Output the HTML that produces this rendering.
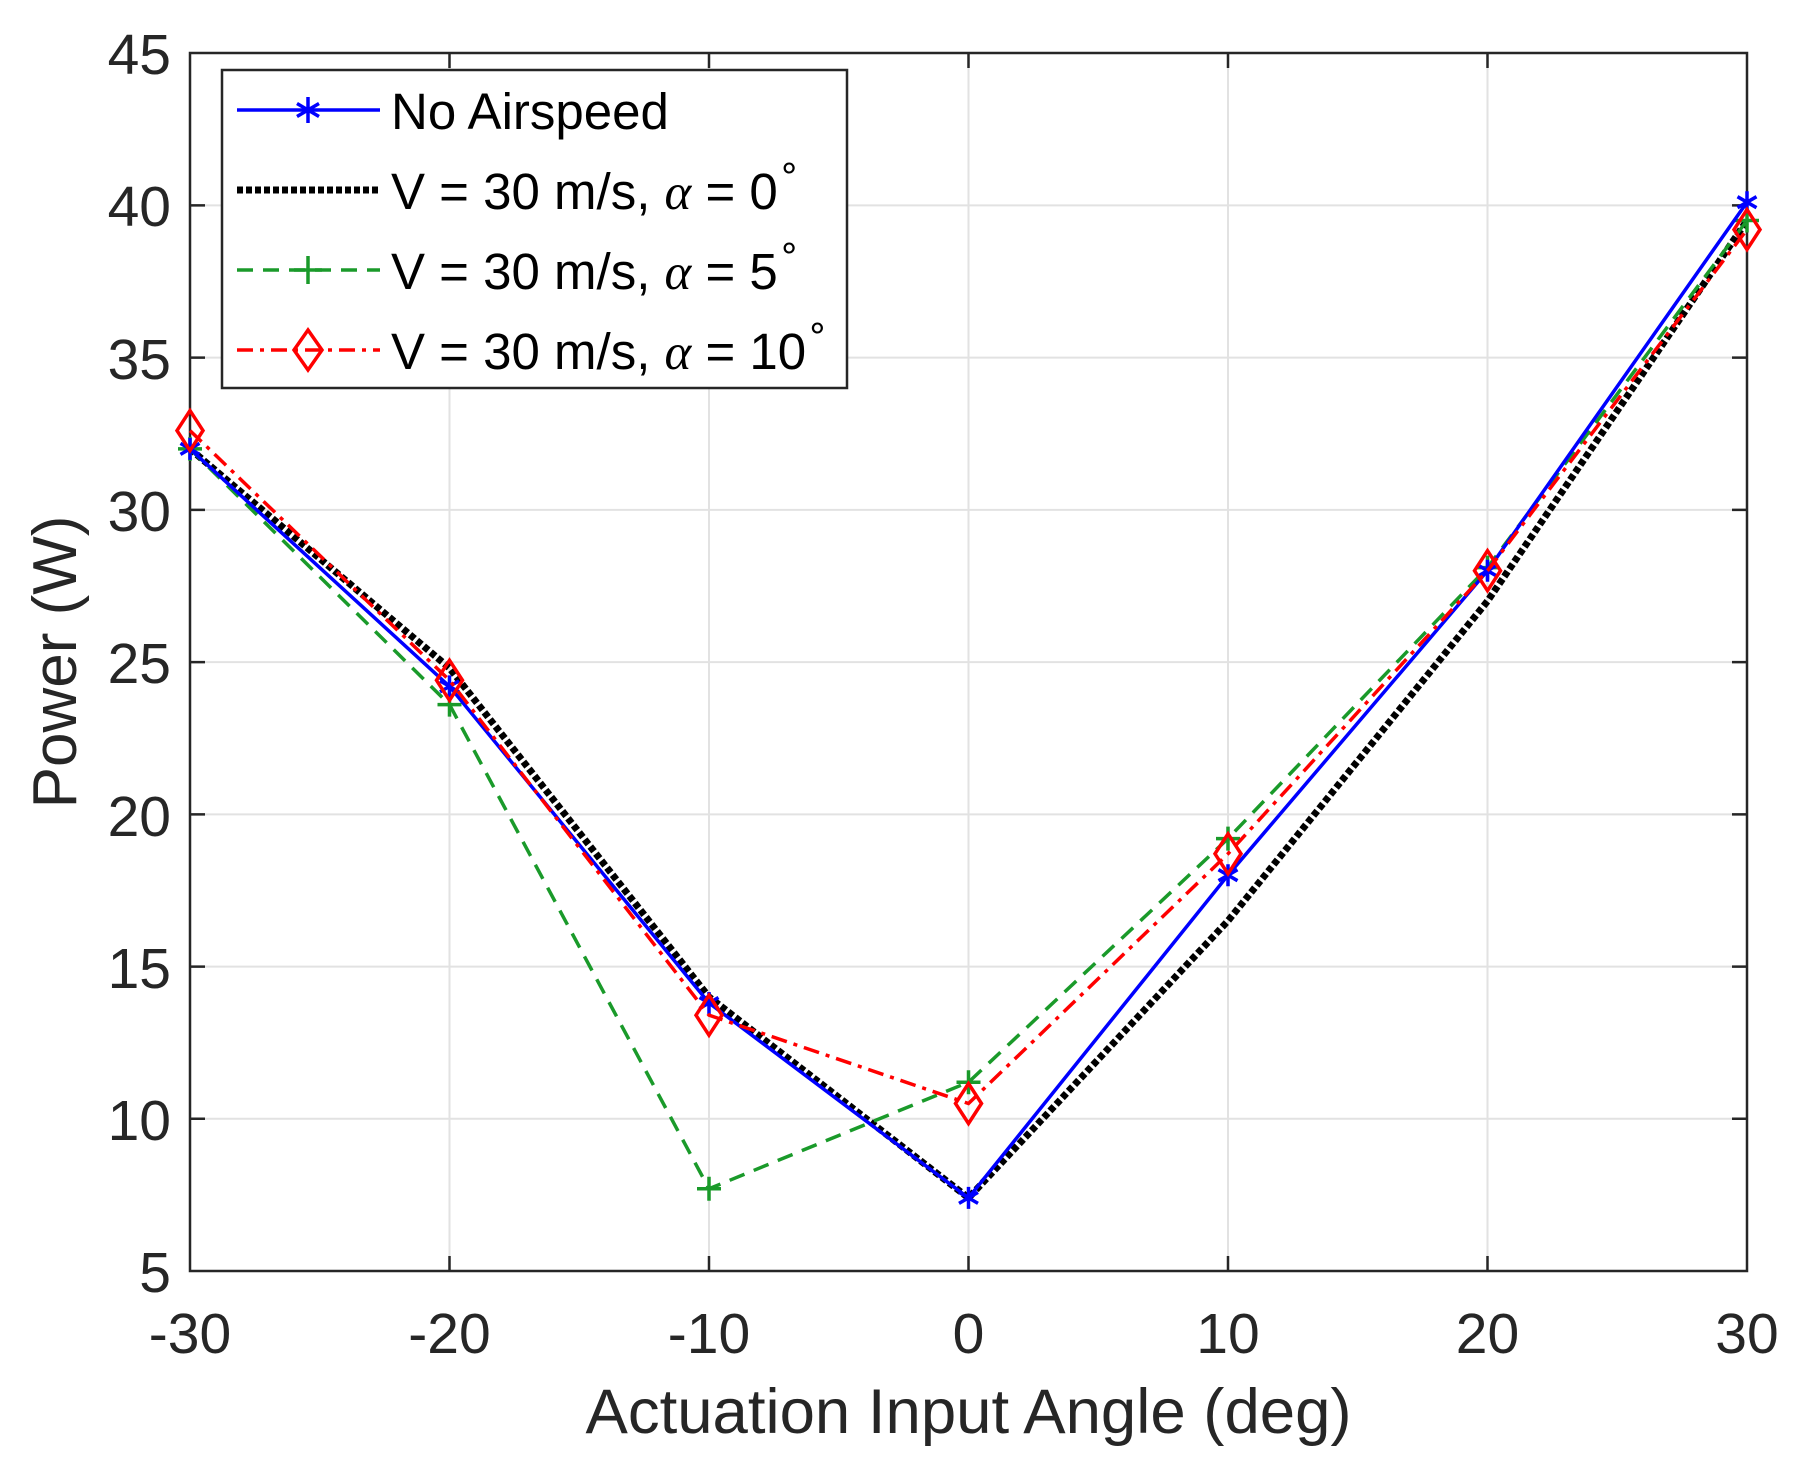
<!DOCTYPE html>
<html><head><meta charset="utf-8"><style>html,body{margin:0;padding:0;background:#fff}svg{display:block}</style></head>
<body>
<svg width="1801" height="1480" viewBox="0 0 1801 1480" xmlns="http://www.w3.org/2000/svg" font-family="Liberation Sans, sans-serif">
<rect width="1801" height="1480" fill="#fff"/>
<g stroke="#e2e2e2" stroke-width="2">
<line x1="449.5" y1="53" x2="449.5" y2="1271"/><line x1="709" y1="53" x2="709" y2="1271"/><line x1="968.5" y1="53" x2="968.5" y2="1271"/><line x1="1228" y1="53" x2="1228" y2="1271"/><line x1="1487.5" y1="53" x2="1487.5" y2="1271"/>
<line x1="190" y1="205.4" x2="1747" y2="205.4"/><line x1="190" y1="357.6" x2="1747" y2="357.6"/><line x1="190" y1="509.9" x2="1747" y2="509.9"/><line x1="190" y1="662.1" x2="1747" y2="662.1"/><line x1="190" y1="814.4" x2="1747" y2="814.4"/><line x1="190" y1="966.6" x2="1747" y2="966.6"/><line x1="190" y1="1118.8" x2="1747" y2="1118.8"/>
</g>
<g stroke="#262626" stroke-width="2.5">
<path d="M449.5 53v15M709 53v15M968.5 53v15M1228 53v15M1487.5 53v15M449.5 1271v-15M709 1271v-15M968.5 1271v-15M1228 1271v-15M1487.5 1271v-15"/>
<path d="M190 205.4h15M190 357.6h15M190 509.9h15M190 662.1h15M190 814.4h15M190 966.6h15M190 1118.8h15M1747 205.4h-15M1747 357.6h-15M1747 509.9h-15M1747 662.1h-15M1747 814.4h-15M1747 966.6h-15M1747 1118.8h-15"/>
</g>
<rect x="190" y="53" width="1557" height="1218" fill="none" stroke="#262626" stroke-width="2.5"/>
<g fill="#262626" font-size="57" text-anchor="end">
<text x="171" y="74">45</text><text x="171" y="226">40</text><text x="171" y="379">35</text><text x="171" y="531">30</text><text x="171" y="683">25</text><text x="171" y="836">20</text><text x="171" y="988">15</text><text x="171" y="1140">10</text><text x="171" y="1292">5</text>
</g>
<g fill="#262626" font-size="57" text-anchor="middle">
<text x="190" y="1353">-30</text><text x="449.5" y="1353">-20</text><text x="709" y="1353">-10</text><text x="968.5" y="1353">0</text><text x="1228" y="1353">10</text><text x="1487.5" y="1353">20</text><text x="1747" y="1353">30</text>
<text x="968.5" y="1433" font-size="63.5">Actuation Input Angle (deg)</text>
<text transform="translate(76,662) rotate(-90)" font-size="62">Power (W)</text>
</g>
<polyline points="190,448.9 449.5,668.1 709,997 968.5,1197.9 1228,920.8 1487.5,601.1 1747,220.5" fill="none" stroke="#000" stroke-width="7" stroke-dasharray="6,3"/>
<polyline points="190,448.9 449.5,704.6 709,1188.8 968.5,1082.2 1228,838.6 1487.5,567.6 1747,220.5" fill="none" stroke="#1a9a2a" stroke-width="3.5" stroke-dasharray="16,10"/>
<g stroke="#1a9a2a" stroke-width="3.5">
<path d="M178 448.9h24M190 436.9v24M437.5 704.6h24M449.5 692.6v24M697 1188.8h24M709 1176.8v24M956.5 1082.2h24M968.5 1070.2v24M1216 838.6h24M1228 826.6v24M1475.5 567.6h24M1487.5 555.6v24M1735 220.5h24M1747 208.5v24"/>
</g>
<polyline points="190,448.9 449.5,686.4 709,1003 968.5,1197.9 1228,875.2 1487.5,570.7 1747,202.2" fill="none" stroke="#0000ff" stroke-width="3.5"/>
<g stroke="#0000ff" stroke-width="3.5">
<path d="M190 437.9v22M180.5 443.4l19 11M180.5 454.4l19-11"/>
<path d="M449.5 675.4v22M440 680.9l19 11M440 691.9l19-11"/>
<path d="M709 992v22M699.5 997.5l19 11M699.5 1008.5l19-11"/>
<path d="M968.5 1186.9v22M959 1192.4l19 11M959 1203.4l19-11"/>
<path d="M1228 864.2v22M1218.5 869.7l19 11M1218.5 880.7l19-11"/>
<path d="M1487.5 559.7v22M1478 565.2l19 11M1478 576.2l19-11"/>
<path d="M1747 191.2v22M1737.5 196.7l19 11M1737.5 207.7l19-11"/>
</g>
<polyline points="190,430.6 449.5,680.3 709,1015.2 968.5,1103.5 1228,853.8 1487.5,570.7 1747,229.6" fill="none" stroke="#ff0000" stroke-width="3.5" stroke-dasharray="16,7,4,7"/>
<g fill="none" stroke="#ff0000" stroke-width="3.5">
<path d="M190 410.6l13 20l-13 20l-13-20z"/>
<path d="M449.5 660.3l13 20l-13 20l-13-20z"/>
<path d="M709 995.2l13 20l-13 20l-13-20z"/>
<path d="M968.5 1083.5l13 20l-13 20l-13-20z"/>
<path d="M1228 833.8l13 20l-13 20l-13-20z"/>
<path d="M1487.5 550.7l13 20l-13 20l-13-20z"/>
<path d="M1747 209.6l13 20l-13 20l-13-20z"/>
</g>
<rect x="222" y="70" width="625" height="318" fill="#fff" stroke="#262626" stroke-width="2.5"/>
<line x1="237" y1="110" x2="380" y2="110" stroke="#0000ff" stroke-width="3.5"/>
<path d="M308 97v26M297 103.5l22 13M297 116.5l22-13" stroke="#0000ff" stroke-width="3.5"/>
<line x1="237" y1="190" x2="380" y2="190" stroke="#000" stroke-width="7" stroke-dasharray="6,3"/>
<line x1="237" y1="270" x2="380" y2="270" stroke="#1a9a2a" stroke-width="3.5" stroke-dasharray="16,10"/>
<path d="M294 270h28M308 256v28" stroke="#1a9a2a" stroke-width="3.5"/>
<line x1="237" y1="350" x2="380" y2="350" stroke="#ff0000" stroke-width="3.5" stroke-dasharray="16,7,4,7"/>
<path d="M308 330l14 20l-14 20l-14-20z" fill="none" stroke="#ff0000" stroke-width="3.5"/>
<g font-size="51" fill="#000">
<text x="391" y="129">No Airspeed</text>
<text x="391" y="209">V = 30 m/s, <tspan font-family="Liberation Serif, serif" font-style="italic">α</tspan> = 0<tspan font-size="36" dy="-30">∘</tspan></text>
<text x="391" y="289">V = 30 m/s, <tspan font-family="Liberation Serif, serif" font-style="italic">α</tspan> = 5<tspan font-size="36" dy="-30">∘</tspan></text>
<text x="391" y="369">V = 30 m/s, <tspan font-family="Liberation Serif, serif" font-style="italic">α</tspan> = 10<tspan font-size="36" dy="-30">∘</tspan></text>
</g>
</svg>
</body></html>
